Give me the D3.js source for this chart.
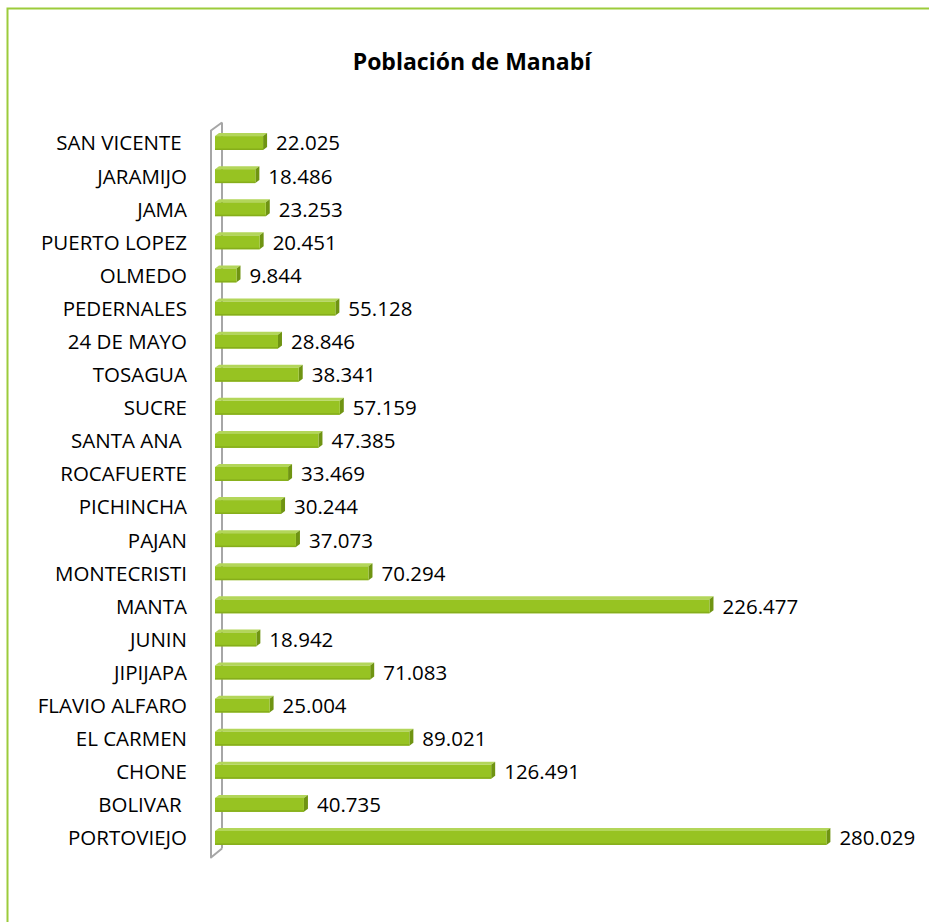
<!DOCTYPE html>
<html>
<head>
<meta charset="utf-8">
<script src="https://cdn.jsdelivr.net/npm/d3@7"></script>
<style>
  html, body { margin: 0; padding: 0; background: #fff; }
  svg { display: block; }
  text { font-family: "Open Sans", "DejaVu Sans", sans-serif; fill: #000; white-space: pre; }
</style>
</head>
<body>
<svg id="chart" width="929" height="922"></svg>
<script>
// Cantones de Manabí, listed top to bottom as drawn
const cantones = [
  "SAN VICENTE ", "JARAMIJO", "JAMA", "PUERTO LOPEZ", "OLMEDO", "PEDERNALES",
  "24 DE MAYO", "TOSAGUA", "SUCRE", "SANTA ANA ", "ROCAFUERTE", "PICHINCHA",
  "PAJAN", "MONTECRISTI", "MANTA", "JUNIN", "JIPIJAPA", "FLAVIO ALFARO",
  "EL CARMEN", "CHONE", "BOLIVAR ", "PORTOVIEJO"
];
const poblacion = [
  22025, 18486, 23253, 20451, 9844, 55128,
  28846, 38341, 57159, 47385, 33469, 30244,
  37073, 70294, 226477, 18942, 71083, 25004,
  89021, 126491, 40735, 280029
];
const titulo = "Población de Manabí";
const xMax = 300000;

const W = 929, H = 922;
const svg = d3.select("#chart");

// Outer chart frame (runs off the right and bottom edges)
svg.append("rect")
  .attr("x", 7.5).attr("y", 8.5)
  .attr("width", W + 20).attr("height", H + 20)
  .attr("fill", "none")
  .attr("stroke", "#9ccb3b")
  .attr("stroke-width", 2);

svg.append("text")
  .attr("x", 472).attr("y", 70)
  .attr("text-anchor", "middle")
  .style("font-weight", "bold")
  .style("font-size", "23px")
  .text(titulo);

const x = d3.scaleLinear().domain([0, xMax]).range([215, 870]);
const y = d3.scaleBand().domain(cantones).range([126.5, 854.5]).paddingInner(0.58).paddingOuter(0.29);

const depthX = 4, depthY = 3;

// 3D side wall behind the category axis
const yTop = y.range()[0], yBot = y.range()[1];
const x0 = x(0);
const wall = svg.append("g")
  .attr("fill", "none")
  .attr("stroke", "#a6a6a6")
  .attr("stroke-width", 2)
  .attr("stroke-linejoin", "round");
wall.append("path")
  .attr("d", `M${x0 + 7},${yTop - 4} L${x0 + 7},${yBot - 6}`);
wall.append("path")
  .attr("d", `M${x0 + 7},${yTop - 4} L${x0 - 4},${yTop + 4} L${x0 - 4},${yBot + 3} L${x0 + 7},${yBot - 6}`);

const fmt = d3.formatLocale({ decimal: ",", thousands: ".", grouping: [3] }).format(",d");

const rows = svg.append("g").selectAll("g")
  .data(cantones.map((c, i) => ({ c, v: poblacion[i] })))
  .join("g");

// top face
rows.append("path")
  .attr("fill", "#b3d65a")
  .attr("d", d => {
    const yb = y(d.c), xe = x(d.v);
    return `M${x0},${yb} L${x0 + depthX},${yb - depthY} L${xe + depthX},${yb - depthY} L${xe},${yb} Z`;
  });
// side face
rows.append("path")
  .attr("fill", "#6f9412")
  .attr("d", d => {
    const yb = y(d.c), xe = x(d.v), h = y.bandwidth();
    return `M${xe},${yb} L${xe + depthX},${yb - depthY} L${xe + depthX},${yb + h - depthY} L${xe},${yb + h} Z`;
  });
// front face
rows.append("rect")
  .attr("x", x0)
  .attr("y", d => y(d.c))
  .attr("width", d => x(d.v) - x0)
  .attr("height", y.bandwidth())
  .attr("fill", "#97c322");
rows.append("rect")
  .attr("x", x0)
  .attr("y", d => y(d.c) + y.bandwidth() - 1.5)
  .attr("width", d => x(d.v) - x0)
  .attr("height", 1.5)
  .attr("fill", "#86ae1b");

// value labels
rows.append("text")
  .attr("x", d => x(d.v) + 13)
  .attr("y", d => y(d.c) + y.bandwidth() / 2)
  .attr("dy", "0.36em")
  .style("font-size", "20.5px")
  .text(d => fmt(d.v));

// category labels
svg.append("g").selectAll("text")
  .data(cantones)
  .join("text")
  .attr("x", 187)
  .attr("y", d => y(d) + y.bandwidth() / 2)
  .attr("dy", "0.36em")
  .attr("text-anchor", "end")
  .attr("xml:space", "preserve")
  .style("font-size", "20.5px")
  .text(d => d);
</script>
</body>
</html>
